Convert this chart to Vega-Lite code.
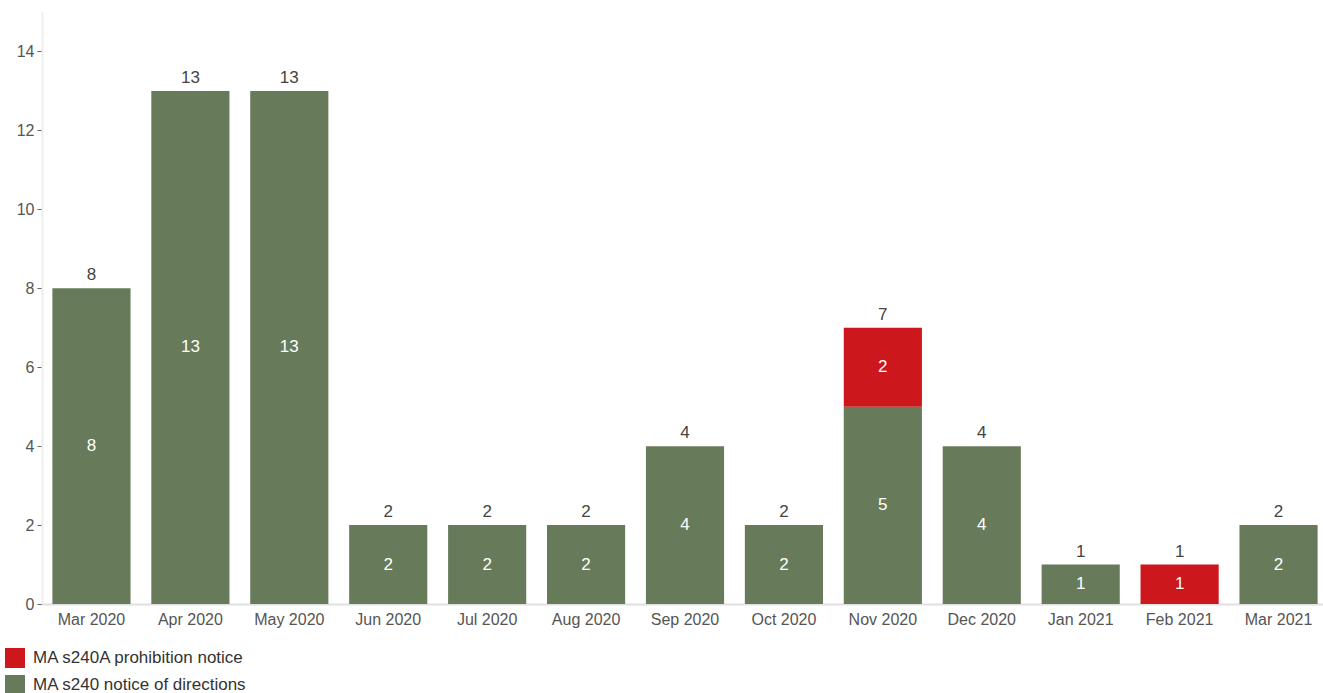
{
  "$schema": "https://vega.github.io/schema/vega-lite/v6.json",
  "width": 1286,
  "height": 592,
  "autosize": {"type": "none"},
  "padding": {"left": 42, "top": 12, "right": 0, "bottom": 89},
  "background": "white",
  "config": {
    "view": {"stroke": null},
    "font": "Liberation Sans"
  },
  "data": {
    "values": [
      {"month": "Mar 2020", "series": "MA s240 notice of directions", "value": 8},
      {"month": "Apr 2020", "series": "MA s240 notice of directions", "value": 13},
      {"month": "May 2020", "series": "MA s240 notice of directions", "value": 13},
      {"month": "Jun 2020", "series": "MA s240 notice of directions", "value": 2},
      {"month": "Jul 2020", "series": "MA s240 notice of directions", "value": 2},
      {"month": "Aug 2020", "series": "MA s240 notice of directions", "value": 2},
      {"month": "Sep 2020", "series": "MA s240 notice of directions", "value": 4},
      {"month": "Oct 2020", "series": "MA s240 notice of directions", "value": 2},
      {"month": "Nov 2020", "series": "MA s240 notice of directions", "value": 5},
      {"month": "Nov 2020", "series": "MA s240A prohibition notice", "value": 2},
      {"month": "Dec 2020", "series": "MA s240 notice of directions", "value": 4},
      {"month": "Jan 2021", "series": "MA s240 notice of directions", "value": 1},
      {"month": "Feb 2021", "series": "MA s240A prohibition notice", "value": 1},
      {"month": "Mar 2021", "series": "MA s240 notice of directions", "value": 2}
    ]
  },
  "encoding": {
    "x": {
      "field": "month",
      "type": "nominal",
      "sort": null,
      "scale": {"paddingInner": 0.21, "paddingOuter": 0.105},
      "axis": {
        "title": null,
        "labelAngle": 0,
        "ticks": false,
        "labelPadding": 7,
        "labelFontSize": 16,
        "labelColor": "#555555",
        "domainColor": "#e0e0e0",
        "domainWidth": 2
      }
    }
  },
  "layer": [
    {
      "mark": {"type": "bar"},
      "encoding": {
        "y": {
          "field": "value",
          "type": "quantitative",
          "aggregate": "sum",
          "scale": {"domain": [0, 15], "nice": false},
          "axis": {
            "title": null,
            "values": [0, 2, 4, 6, 8, 10, 12, 14],
            "grid": false,
            "tickSize": 5,
            "tickColor": "#666666",
            "labelFontSize": 16,
            "labelColor": "#555555",
            "labelPadding": 3,
            "domainColor": "#eeeeee",
            "domainWidth": 2
          }
        },
        "color": {
          "field": "series",
          "type": "nominal",
          "scale": {
            "domain": ["MA s240A prohibition notice", "MA s240 notice of directions"],
            "range": ["#cc171d", "#677b5a"]
          },
          "legend": {
            "title": null,
            "orient": "none",
            "legendX": -37,
            "legendY": 636,
            "direction": "vertical",
            "symbolType": "square",
            "symbolSize": 400,
            "symbolStrokeWidth": 0,
            "symbolOpacity": 1,
            "labelFontSize": 17,
            "labelLimit": 400,
            "labelColor": "#333333",
            "rowPadding": 7,
            "labelOffset": 8
          }
        },
        "order": {"field": "series", "sort": "ascending"}
      }
    },
    {
      "transform": [
        {"stack": "value", "groupby": ["month"], "sort": [{"field": "series", "order": "ascending"}], "as": ["v0", "v1"]},
        {"calculate": "(datum.v0 + datum.v1) / 2", "as": "mid"}
      ],
      "mark": {"type": "text", "color": "white", "fontSize": 17, "baseline": "middle"},
      "encoding": {
        "y": {"field": "mid", "type": "quantitative"},
        "text": {"field": "value", "type": "quantitative"}
      }
    },
    {
      "mark": {"type": "text", "color": "#444444", "fontSize": 17, "baseline": "bottom", "dy": -4},
      "encoding": {
        "y": {"field": "value", "type": "quantitative", "aggregate": "sum"},
        "text": {"field": "value", "type": "quantitative", "aggregate": "sum"}
      }
    }
  ]
}
